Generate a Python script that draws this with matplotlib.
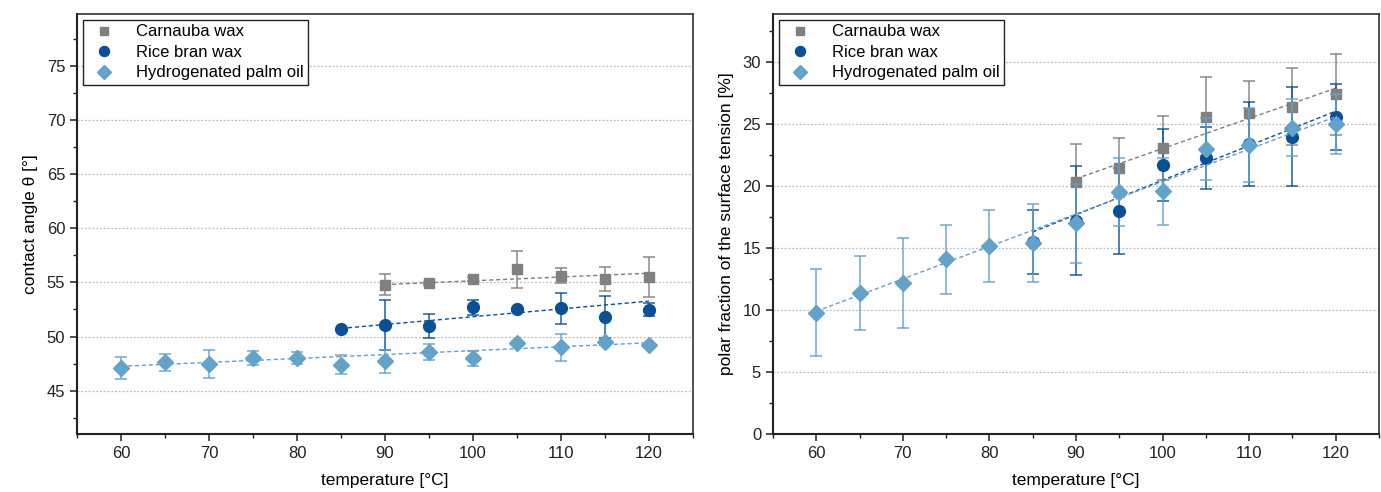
import numpy as np
import matplotlib
matplotlib.use("Agg")
import matplotlib.pyplot as plt
from matplotlib.ticker import MultipleLocator

plt.rcParams['font.family'] = ['Liberation Sans', 'DejaVu Sans']

series_names = ["Carnauba wax", "Rice bran wax", "Hydrogenated palm oil"]
colors = ["#808080", "#0a5096", "#62a2cb"]
markers = ["s", "o", "D"]
msizes = [7, 8.5, 8]

# temperatures
t_carnauba = [90, 95, 100, 105, 110, 115, 120]
t_rice = [85, 90, 95, 100, 105, 110, 115, 120]
t_palm = [60, 65, 70, 75, 80, 85, 90, 95, 100, 105, 110, 115, 120]

# contact angle [deg]
ca_carnauba = [54.8, 54.9, 55.3, 56.2, 55.6, 55.3, 55.5]
ca_carnauba_err = [1.0, 0.1, 0.2, 1.7, 0.7, 1.1, 1.85]
ca_rice = [50.7, 51.1, 51.0, 52.7, 52.5, 52.6, 51.8, 52.45]
ca_rice_err = [0.0, 2.3, 1.1, 0.7, 0.1, 1.4, 1.9, 0.6]
ca_palm = [47.1, 47.6, 47.5, 48.0, 48.0, 47.4, 47.7, 48.6, 48.0, 49.4, 49.0, 49.5, 49.25]
ca_palm_err = [1.05, 0.8, 1.3, 0.65, 0.55, 0.85, 1.05, 0.75, 0.7, 0.15, 1.25, 0.3, 0.1]
# linear fit line values at first and last temperature
ca_fit_carnauba = [54.8, 55.85]
ca_fit_rice = [50.75, 53.27]
ca_fit_palm = [47.25, 49.42]

# polar fraction [%]
pf_carnauba = [20.3, 21.5, 23.1, 25.6, 25.9, 26.4, 27.4]
pf_carnauba_err = [3.1, 2.4, 2.6, 3.2, 2.6, 3.1, 3.3]
pf_rice = [15.5, 17.2, 18.0, 21.7, 22.3, 23.4, 24.0, 25.6]
pf_rice_err = [2.6, 4.4, 3.5, 2.9, 2.5, 3.4, 4.0, 2.65]
pf_palm = [9.8, 11.4, 12.2, 14.1, 15.2, 15.4, 17.0, 19.5, 19.6, 23.0, 23.3, 24.7, 25.0]
pf_palm_err = [3.5, 3.0, 3.65, 2.8, 2.9, 3.15, 3.2, 2.75, 2.7, 2.5, 3.0, 2.3, 2.4]
pf_fit_carnauba = [20.6, 27.9]
pf_fit_rice = [16.3, 26.05]
pf_fit_palm = [9.9, 25.6]

temps = [t_carnauba, t_rice, t_palm]
ca_vals = [ca_carnauba, ca_rice, ca_palm]
ca_errs = [ca_carnauba_err, ca_rice_err, ca_palm_err]
ca_fits = [ca_fit_carnauba, ca_fit_rice, ca_fit_palm]
pf_vals = [pf_carnauba, pf_rice, pf_palm]
pf_errs = [pf_carnauba_err, pf_rice_err, pf_palm_err]
pf_fits = [pf_fit_carnauba, pf_fit_rice, pf_fit_palm]

fig = plt.figure(figsize=(13.81, 4.92), dpi=100)
ax1 = fig.add_axes([0.0558, 0.118, 0.446, 0.8537])
ax2 = fig.add_axes([0.5597, 0.118, 0.4388, 0.8537])


def draw(ax, vals, errs, fits, ylim, ymaj, ymin, ylabel):
    handles = []
    for i in range(3):
        x = np.array(temps[i], dtype=float)
        y = np.array(vals[i], dtype=float)
        e = np.array(errs[i], dtype=float)
        ax.errorbar(x, y, yerr=e, fmt='none', ecolor=colors[i], elinewidth=1.2,
                    capsize=4, capthick=1.2, alpha=0.85, zorder=3 + i)
        ax.plot([x[0], x[-1]], fits[i], ls=(0, (3, 2)), lw=1.0, color=colors[i], zorder=4 + i)
        h, = ax.plot(x, y, ls='none', marker=markers[i], ms=msizes[i], color=colors[i],
                     mec=colors[i], zorder=5 + i, label=series_names[i])
        handles.append(h)
    ax.set_xlim(55, 125)
    ax.set_ylim(*ylim)
    ax.xaxis.set_major_locator(MultipleLocator(10))
    ax.xaxis.set_minor_locator(MultipleLocator(5))
    ax.yaxis.set_major_locator(MultipleLocator(ymaj))
    ax.yaxis.set_minor_locator(MultipleLocator(ymin))
    ax.grid(axis='y', which='major', ls=(0, (1.5, 1.5)), color='#bdbdbd', lw=0.9, zorder=0)
    ax.tick_params(which='both', direction='out', top=False, right=False, labelsize=12,
                   colors='#222222')
    ax.tick_params(which='major', length=5, width=1.1)
    ax.tick_params(which='minor', length=3, width=1.0)
    for s in ['left', 'bottom']:
        ax.spines[s].set_linewidth(1.5)
        ax.spines[s].set_color('#222222')
    for s in ['top', 'right']:
        ax.spines[s].set_linewidth(1.2)
        ax.spines[s].set_color('#333333')
    ax.set_xlabel('temperature [°C]', fontsize=12.5, labelpad=9)
    ax.set_ylabel(ylabel, fontsize=12.5, labelpad=6)
    leg = ax.legend(handles=handles, loc='upper left', fontsize=12, frameon=True,
                    fancybox=False, edgecolor='#222222', framealpha=1, borderpad=0.28,
                    handletextpad=0.9, labelspacing=0.33, borderaxespad=0.35,
                    markerscale=0.85)
    leg.get_frame().set_linewidth(1.0)
    leg.set_zorder(20)


draw(ax1, ca_vals, ca_errs, ca_fits, (41, 79.8), 5, 2.5, 'contact angle θ [°]')
draw(ax2, pf_vals, pf_errs, pf_fits, (0, 33.9), 5, 2.5, 'polar fraction of the surface tension [%]')

fig.savefig('out.png', dpi=100)
